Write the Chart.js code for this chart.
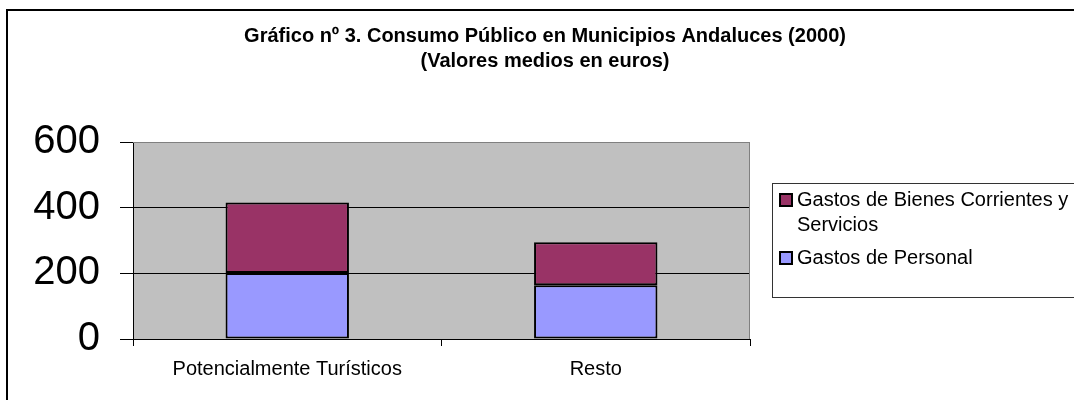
<!DOCTYPE html>
<html>
<head>
<meta charset="utf-8">
<script src="https://cdn.jsdelivr.net/npm/chart.js@4"></script>
<style>
  body { margin: 0; background: #fff; }
  canvas { display: block; }
</style>
</head>
<body>
<canvas id="consumoChart" width="1074" height="400"></canvas>
<script>
// Datos del gráfico
const categories = ['Potencialmente Turísticos', 'Resto'];
const gastosPersonal = [201, 164];
const gastosBienes = [215, 131];
const seriesLabels = ['Gastos de Personal', 'Gastos de Bienes Corrientes y Servicios'];
const yTicks = [0, 200, 400, 600];
const titleLines = ['Gráfico nº 3. Consumo Público en Municipios Andaluces (2000)', '(Valores medios en euros)'];

const FONT = "'Liberation Sans', Arial, sans-serif";

// Fondo gris del área de trazado y borde superior/derecho
const plotBackground = {
    id: 'plotBackground',
    beforeDraw(chart) {
        const a = chart.chartArea;
        const ctx = chart.ctx;
        ctx.save();
        ctx.fillStyle = '#C0C0C0';
        ctx.fillRect(a.left, a.top, a.right - a.left, a.bottom - a.top);
        ctx.restore();
    },
    beforeDatasetsDraw(chart) {
        const a = chart.chartArea;
        const ctx = chart.ctx;
        ctx.save();
        ctx.strokeStyle = '#808080';
        ctx.lineWidth = 1;
        ctx.beginPath();
        ctx.moveTo(a.left, a.top + 0.5);
        ctx.lineTo(a.right - 0.5, a.top + 0.5);
        ctx.lineTo(a.right - 0.5, a.bottom);
        ctx.stroke();
        ctx.restore();
    }
};

// Título, leyenda con recuadro y marco exterior
const frameAndLegend = {
    id: 'frameAndLegend',
    afterDraw(chart) {
        const ctx = chart.ctx;
        ctx.save();

        // marco exterior
        ctx.strokeStyle = '#000';
        ctx.lineWidth = 2;
        ctx.beginPath();
        ctx.moveTo(7, 400);
        ctx.lineTo(7, 10);
        ctx.lineTo(1074, 10);
        ctx.stroke();

        // título
        ctx.fillStyle = '#000';
        ctx.font = 'bold 20px ' + FONT;
        ctx.textAlign = 'center';
        ctx.textBaseline = 'middle';
        titleLines.forEach((t, i) => ctx.fillText(t, 545, 36 + i * 25));

        // leyenda
        ctx.lineWidth = 1;
        ctx.strokeStyle = '#333';
        ctx.strokeRect(772.5, 183.5, 320, 114);

        ctx.font = '20px ' + FONT;
        ctx.textAlign = 'left';
        const maxW = 276;
        let y = 200;
        const items = chart.data.datasets.slice().reverse();
        items.forEach(ds => {
            // partir el texto en líneas
            const words = ds.label.split(' ');
            const lines = [];
            let cur = '';
            words.forEach(w => {
                const test = cur ? cur + ' ' + w : w;
                if (ctx.measureText(test).width > maxW && cur) {
                    lines.push(cur);
                    cur = w;
                } else {
                    cur = test;
                }
            });
            lines.push(cur);

            ctx.fillStyle = ds.backgroundColor;
            ctx.fillRect(780, y - 6, 12, 12);
            ctx.strokeStyle = '#000';
            ctx.lineWidth = 2;
            ctx.strokeRect(780, y - 6, 12, 12);

            ctx.fillStyle = '#000';
            lines.forEach((l, i) => ctx.fillText(l, 797, y + i * 25));
            y += lines.length * 25 + 8;
        });

        ctx.restore();
    }
};

const ctx = document.getElementById('consumoChart').getContext('2d');
new Chart(ctx, {
    type: 'bar',
    data: {
        labels: categories,
        datasets: [
            {
                label: seriesLabels[0],
                data: gastosPersonal,
                backgroundColor: '#9999FF',
                borderColor: '#000',
                borderWidth: 2,
                borderSkipped: false,
                barPercentage: 0.4,
                categoryPercentage: 1
            },
            {
                label: seriesLabels[1],
                data: gastosBienes,
                backgroundColor: '#993366',
                borderColor: '#000',
                borderWidth: 2,
                borderSkipped: false,
                barPercentage: 0.4,
                categoryPercentage: 1
            }
        ]
    },
    options: {
        responsive: false,
        animation: false,
        layout: { padding: { top: 142, left: 0, right: 324, bottom: 21 } },
        plugins: {
            legend: { display: false },
            title: { display: false },
            tooltip: { enabled: false }
        },
        scales: {
            x: {
                stacked: true,
                afterFit(scale) { scale.height = 40; },
                border: { color: '#000', width: 1 },
                grid: {
                    offset: true,
                    drawOnChartArea: false,
                    drawTicks: true,
                    tickLength: 7,
                    tickColor: '#000'
                },
                ticks: {
                    color: '#000',
                    padding: 11,
                    maxRotation: 0,
                    font: { family: FONT, size: 20 }
                }
            },
            y: {
                stacked: true,
                min: yTicks[0],
                max: yTicks[yTicks.length - 1],
                afterFit(scale) { scale.width = 133; },
                afterBuildTicks(scale) { scale.ticks = yTicks.map(v => ({ value: v })); },
                border: { color: '#000', width: 1 },
                grid: {
                    color: c => (c.tick && c.tick.value === 600 ? '#808080' : '#000'),
                    tickColor: '#000',
                    tickLength: 13,
                    lineWidth: 1
                },
                ticks: {
                    color: '#000',
                    padding: 20,
                    font: { family: FONT, size: 40 }
                }
            }
        }
    },
    plugins: [plotBackground, frameAndLegend]
});
</script>
</body>
</html>
